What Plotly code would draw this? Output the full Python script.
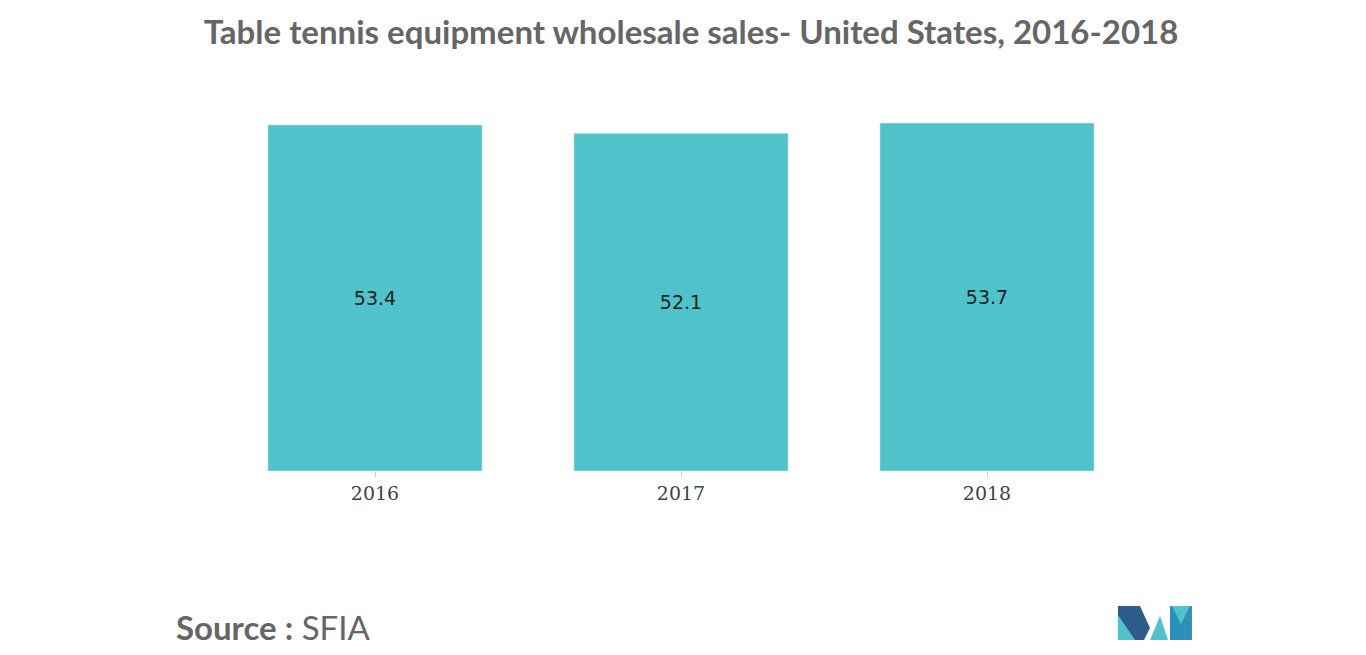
import plotly.graph_objects as go

years = ["2016", "2017", "2018"]
sales = [53.4, 52.1, 53.7]
labels = ["53.4", "52.1", "53.7"]

fig = go.Figure(go.Bar(
    x=years, y=sales, text=labels, textposition="inside", insidetextanchor="middle",
    marker_color="#50C3CA", width=0.7,
    textfont=dict(family="DejaVu Sans", size=19, color="#222222"),
))
W, H = 1366, 655
fig.update_layout(
    width=W, height=H, plot_bgcolor="white", paper_bgcolor="white",
    margin=dict(l=214, r=234, t=92, b=192),
    showlegend=False, bargap=0.3,
    title=dict(text="Table tennis equipment wholesale sales- United States, 2016-2018",
               x=0.5, xanchor="center", y=0.962, yanchor="middle",
               font=dict(family="Lato", size=33, color="#666666", weight="bold")),
    xaxis=dict(showgrid=False, showline=False, ticks="outside", ticklen=5, tickcolor="#cccccc",
               tickfont=dict(family="DejaVu Serif", size=19, color="#444444")),
    yaxis=dict(visible=False, range=[0, 57.25]),
)
fig.add_annotation(xref="paper", yref="paper", x=-0.052, y=-0.42, xanchor="left", yanchor="middle",
    showarrow=False, text="<b>Source :</b> SFIA",
    font=dict(family="Lato", size=33, color="#666666"))
# logo
def px(x, y):
    return ((x - 222) / 918, (471 - y) / 371)
polys = [
    ([(1118, 640), (1118, 606), (1140, 606), (1150, 628), (1144, 640)], "#2E5C8A"),
    ([(1118, 640), (1118, 615), (1135, 640)], "#50C3CA"),
    ([(1150, 640), (1160, 616), (1168, 640)], "#50C3CA"),
    ([(1170, 640), (1170, 606), (1192, 606), (1192, 640)], "#2E8FB8"),
    ([(1172, 606), (1190, 606), (1181, 624)], "#50C3CA"),
]
for pts, c in polys:
    path = "M " + " L ".join(f"{px(x,y)[0]:.4f},{px(x,y)[1]:.4f}" for x, y in pts) + " Z"
    fig.add_shape(type="path", xref="paper", yref="paper", path=path, fillcolor=c, line_width=0)
fig.write_html("out.html")
